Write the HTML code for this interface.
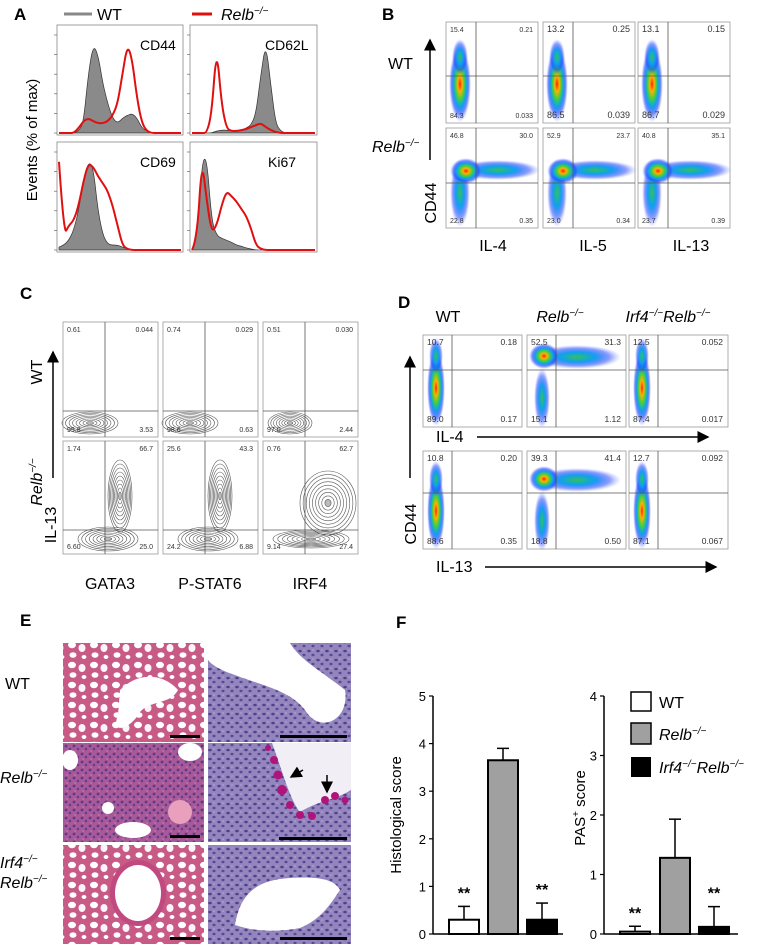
<!DOCTYPE html>
<html><head><meta charset="utf-8">
<style>
html,body{margin:0;padding:0;background:#fff;}
svg{display:block;font-family:"Liberation Sans",Arial,sans-serif;}
</style></head>
<body>
<svg id="fig" width="760" height="944" viewBox="0 0 760 944" xmlns="http://www.w3.org/2000/svg">
<defs>
  <pattern id="alv" width="22" height="20" patternUnits="userSpaceOnUse">
    <rect width="22" height="20" fill="#c85a86"/>
    <ellipse cx="6" cy="5" rx="4" ry="3.2" fill="#fff"/>
    <ellipse cx="16" cy="8" rx="3.5" ry="4" fill="#fbf4f8"/>
    <ellipse cx="7" cy="15" rx="3.5" ry="2.8" fill="#fff"/>
    <ellipse cx="18" cy="17" rx="2.4" ry="2" fill="#fff"/>
  </pattern>
  <pattern id="dense" width="8" height="8" patternUnits="userSpaceOnUse">
    <rect width="8" height="8" fill="#a85a98"/>
    <circle cx="2" cy="2" r="1.4" fill="#5a3a8a"/>
    <circle cx="6" cy="5" r="1.3" fill="#6a3c90"/>
    <circle cx="3" cy="7" r="0.8" fill="#d47aa6"/>
  </pattern>
  <pattern id="epi" width="9" height="9" patternUnits="userSpaceOnUse">
    <rect width="9" height="9" fill="#9486bd"/>
    <ellipse cx="3" cy="3" rx="1.8" ry="1.3" fill="#4e4290"/>
    <ellipse cx="7" cy="7" rx="1.6" ry="1.2" fill="#564a98"/>
    <circle cx="7" cy="2" r="0.8" fill="#b6a8d6"/>
  </pattern>
  <radialGradient id="dens" cx="50%" cy="50%" r="50%">
    <stop offset="0" stop-color="#ff2000"/>
    <stop offset="0.2" stop-color="#ffb000"/>
    <stop offset="0.4" stop-color="#40d040"/>
    <stop offset="0.6" stop-color="#10a0f0"/>
    <stop offset="0.8" stop-color="#2040ff" stop-opacity="0.6"/>
    <stop offset="1" stop-color="#6080ff" stop-opacity="0"/>
  </radialGradient>
  <radialGradient id="densB" cx="50%" cy="50%" r="50%">
    <stop offset="0" stop-color="#30c060"/>
    <stop offset="0.4" stop-color="#10a0f0"/>
    <stop offset="0.75" stop-color="#2040ff" stop-opacity="0.5"/>
    <stop offset="1" stop-color="#6080ff" stop-opacity="0"/>
  </radialGradient>
  <marker id="arr" markerWidth="8" markerHeight="8" refX="7" refY="4" orient="auto"><path d="M0,0 L8,4 L0,8 z" fill="#000"/></marker>
</defs>

<g font-weight="bold" font-size="17">
  <text x="14" y="20">A</text>
  <text x="382" y="20">B</text>
  <text x="20" y="299">C</text>
  <text x="398" y="308">D</text>
  <text x="20" y="626">E</text>
  <text x="396" y="628">F</text>
</g>

<g>
  <line x1="64" y1="14" x2="92" y2="14" stroke="#888" stroke-width="3"/>
  <text x="97" y="20" font-size="16">WT</text>
  <line x1="192" y1="14" x2="212" y2="14" stroke="#e01010" stroke-width="3"/>
  <text x="221" y="20" font-size="16" font-style="italic">Relb<tspan font-size="10" dy="-6">−/−</tspan></text>
</g>
<text transform="translate(37,140) rotate(-90)" text-anchor="middle" font-size="15">Events (% of max)</text>
<g id="gA"></g>

<g>
  <text x="388" y="69" font-size="16">WT</text>
  <text x="372" y="152" font-size="16" font-style="italic">Relb<tspan font-size="10" dy="-6">−/−</tspan></text>
  <line x1="430" y1="160" x2="430" y2="40" stroke="#000" stroke-width="1.5" marker-end="url(#arr)"/>
  <text transform="translate(436,203) rotate(-90)" text-anchor="middle" font-size="16">CD44</text>
  <text x="493" y="251" text-anchor="middle" font-size="16">IL-4</text>
  <text x="593" y="251" text-anchor="middle" font-size="16">IL-5</text>
  <text x="691" y="251" text-anchor="middle" font-size="16">IL-13</text>
</g>
<g id="gB"></g>

<g>
  <text transform="translate(42,372) rotate(-90)" text-anchor="middle" font-size="16">WT</text>
  <line x1="53" y1="478" x2="53" y2="352" stroke="#000" stroke-width="1.5" marker-end="url(#arr)"/>
  <text transform="translate(42,482) rotate(-90)" text-anchor="middle" font-size="16" font-style="italic">Relb<tspan font-size="10" dy="-6">−/−</tspan></text>
  <text transform="translate(56,525) rotate(-90)" text-anchor="middle" font-size="16">IL-13</text>
  <text x="110" y="589" text-anchor="middle" font-size="16">GATA3</text>
  <text x="210" y="589" text-anchor="middle" font-size="16">P-STAT6</text>
  <text x="310" y="589" text-anchor="middle" font-size="16">IRF4</text>
</g>
<g id="gC"></g>

<g>
  <text x="448" y="322" text-anchor="middle" font-size="16">WT</text>
  <text x="560" y="322" text-anchor="middle" font-size="16" font-style="italic">Relb<tspan font-size="10" dy="-6">−/−</tspan></text>
  <text x="668" y="322" text-anchor="middle" font-size="16" font-style="italic">Irf4<tspan font-size="10" dy="-6">−/−</tspan><tspan dy="6">Relb</tspan><tspan font-size="10" dy="-6">−/−</tspan></text>
  <text x="436" y="442" font-size="16">IL-4</text>
  <line x1="477" y1="437" x2="708" y2="437" stroke="#000" stroke-width="1.5" marker-end="url(#arr)"/>
  <text x="436" y="572" font-size="16">IL-13</text>
  <line x1="485" y1="567" x2="716" y2="567" stroke="#000" stroke-width="1.5" marker-end="url(#arr)"/>
  <line x1="410" y1="478" x2="410" y2="357" stroke="#000" stroke-width="1.5" marker-end="url(#arr)"/>
  <text transform="translate(416,524) rotate(-90)" text-anchor="middle" font-size="16">CD44</text>
</g>
<g id="gD"></g>

<g>
  <text x="5" y="689" font-size="16">WT</text>
  <text x="0" y="783" font-size="16" font-style="italic">Relb<tspan font-size="10" dy="-6">−/−</tspan></text>
  <text x="0" y="868" font-size="16" font-style="italic">Irf4<tspan font-size="10" dy="-6">−/−</tspan></text>
  <text x="0" y="888" font-size="16" font-style="italic">Relb<tspan font-size="10" dy="-6">−/−</tspan></text>

  <g>
    <rect x="63" y="643" width="141" height="99" fill="url(#alv)"/>
    <path d="M120,690 C140,670 165,675 178,690 C170,705 150,700 140,712 C130,730 110,735 118,715 Z" fill="#fff"/>
    <rect x="170" y="735" width="30" height="3" fill="#000"/>
  </g>
  <g>
    <rect x="208" y="643" width="143" height="99" fill="url(#epi)"/>
    <path d="M208,643 L290,643 C300,660 320,670 345,690 C350,720 320,735 305,710 C290,690 260,685 235,675 C220,670 212,665 208,660 Z" fill="#fff"/>
    <rect x="280" y="735" width="67" height="3" fill="#000"/>
  </g>
  <g>
    <rect x="63" y="743" width="141" height="99" fill="url(#dense)"/>
    <ellipse cx="70" cy="760" rx="8" ry="10" fill="#fff"/>
    <ellipse cx="190" cy="752" rx="12" ry="9" fill="#fff"/>
    <ellipse cx="108" cy="808" rx="6" ry="6" fill="#fff"/>
    <ellipse cx="133" cy="830" rx="18" ry="8" fill="#fff"/>
    <ellipse cx="180" cy="812" rx="12" ry="12" fill="#e8a0bc"/>
    <rect x="170" y="835" width="30" height="3" fill="#000"/>
  </g>
  <g>
    <rect x="208" y="743" width="143" height="99" fill="url(#epi)"/>
    <path d="M272,743 L351,743 L351,790 C335,800 320,800 300,812 C290,800 282,770 272,743 Z" fill="#f2eef6"/>
    <g fill="#b0147a">
      <circle cx="274" cy="760" r="4"/><circle cx="278" cy="775" r="4.5"/><circle cx="282" cy="790" r="5"/><circle cx="290" cy="805" r="4"/><circle cx="300" cy="815" r="4"/><circle cx="312" cy="816" r="4"/><circle cx="325" cy="800" r="4"/><circle cx="335" cy="796" r="4"/><circle cx="345" cy="800" r="3.5"/><circle cx="268" cy="748" r="3"/>
    </g>
    <line x1="303" y1="770" x2="291" y2="777" stroke="#000" stroke-width="1.5" marker-end="url(#arr)"/>
    <line x1="327" y1="775" x2="327" y2="792" stroke="#000" stroke-width="1.5" marker-end="url(#arr)"/>
    <rect x="279" y="837" width="68" height="3" fill="#000"/>
  </g>
  <g>
    <rect x="63" y="845" width="141" height="99" fill="url(#alv)"/>
    <ellipse cx="138" cy="893" rx="28" ry="33" fill="#c04a80"/>
    <ellipse cx="138" cy="893" rx="23" ry="28" fill="#fff"/>
    <rect x="170" y="937" width="30" height="3" fill="#000"/>
  </g>
  <g>
    <rect x="208" y="845" width="143" height="99" fill="url(#epi)"/>
    <path d="M235,925 C240,895 255,880 290,878 C320,876 335,880 340,890 C330,905 320,920 300,928 C280,932 255,932 235,925 Z" fill="#fff"/>
    <rect x="280" y="937" width="67" height="3" fill="#000"/>
  </g>
</g>

<g id="gF">
  <text transform="translate(401,815) rotate(-90)" text-anchor="middle" font-size="15">Histological score</text>
  <text transform="translate(585,808) rotate(-90)" text-anchor="middle" font-size="15">PAS<tspan font-size="10" dy="-6">+</tspan><tspan dy="6"> score</tspan></text>
  <g>
    <rect x="631" y="692" width="20" height="19" fill="#fff" stroke="#000" stroke-width="1.5"/>
    <text x="659" y="708" font-size="16">WT</text>
    <rect x="631" y="723" width="20" height="21" fill="#a0a0a0" stroke="#000" stroke-width="1.5"/>
    <text x="659" y="740" font-size="16" font-style="italic">Relb<tspan font-size="10" dy="-6">−/−</tspan></text>
    <rect x="631" y="757" width="20" height="20" fill="#000"/>
    <text x="659" y="773" font-size="16" font-style="italic">Irf4<tspan font-size="10" dy="-6">−/−</tspan><tspan dy="6">Relb</tspan><tspan font-size="10" dy="-6">−/−</tspan></text>
  </g>
</g>
</svg>

<script>
const NS = 'http://www.w3.org/2000/svg';

// ---- Panel A histogram data (fraction of max along log-scale bins) ----
const histMarkers = ['CD44', 'CD62L', 'CD69', 'Ki67'];
const histWT = [
  [0,0,0,0,0.02,0.1,0.6,0.9,0.8,0.5,0.3,0.15,0.1,0.15,0.18,0.2,0.15,0.05,0.02,0,0,0,0,0,0,0],
  [0,0,0,0,0,0.02,0.03,0.03,0.02,0.02,0.03,0.05,0.08,0.2,0.6,0.92,0.5,0.1,0.02,0,0,0,0,0,0,0],
  [0.03,0.05,0.1,0.2,0.4,0.7,0.9,0.85,0.4,0.15,0.06,0.05,0.05,0.03,0.01,0,0,0,0,0,0,0,0,0,0,0],
  [0,0.05,0.9,0.95,0.3,0.15,0.12,0.1,0.08,0.05,0.04,0.02,0.01,0,0,0,0,0,0,0,0,0,0,0,0,0]
];
const histRelb = [
  [0,0,0,0,0.05,0.12,0.15,0.12,0.1,0.1,0.12,0.18,0.3,0.6,0.9,0.75,0.35,0.1,0.02,0,0,0,0,0,0,0],
  [0,0,0,0,0.2,0.88,0.3,0.05,0.02,0.02,0.03,0.04,0.06,0.08,0.1,0.06,0.03,0.01,0,0,0,0,0,0,0,0],
  [0.9,0.15,0.25,0.3,0.45,0.7,0.88,0.85,0.75,0.68,0.6,0.45,0.25,0.05,0.01,0,0,0,0,0,0,0,0,0,0,0],
  [0,0.1,0.93,0.5,0.18,0.25,0.45,0.6,0.55,0.5,0.42,0.35,0.22,0.05,0.01,0,0,0,0,0,0,0,0,0,0,0]
];
const histBoxes = [[57,25,126,110],[190,25,127,110],[57,142,126,110],[190,142,127,110]];
const histLabelPos = [[140,50],[265,50],[140,167],[268,167]];

const bMarkers = ['IL-4','IL-5','IL-13'];
const bWT = [['15.4','0.21','84.3','0.033'],['13.2','0.25','86.5','0.039'],['13.1','0.15','86.7','0.029']];
const bRelb = [['46.8','30.0','22.8','0.35'],['52.9','23.7','23.0','0.34'],['40.8','35.1','23.7','0.39']];

const cMarkers = ['GATA3','P-STAT6','IRF4'];
const cWT = [['0.61','0.044','95.8','3.53'],['0.74','0.029','98.6','0.63'],['0.51','0.030','97.0','2.44']];
const cRelb = [['1.74','66.7','6.60','25.0'],['25.6','43.3','24.2','6.88'],['0.76','62.7','9.14','27.4']];

const dGenotypes = ['WT','Relb','Irf4Relb'];
const dIL4 = [['10.7','0.18','89.0','0.17'],['52.5','31.3','15.1','1.12'],['12.5','0.052','87.4','0.017']];
const dIL13 = [['10.8','0.20','88.6','0.35'],['39.3','41.4','18.8','0.50'],['12.7','0.092','87.1','0.067']];

const groups = ['WT','Relb-/-','Irf4-/-Relb-/-'];
const histMean = [0.3, 3.65, 0.3];
const histErr = [0.28, 0.25, 0.35];
const histSig = ['**','','**'];
const pasMean = [0.04, 1.28, 0.12];
const pasErr = [0.09, 0.65, 0.34];
const pasSig = ['**','','**'];
const histTicks = [0,1,2,3,4,5];
const pasTicks = [0,1,2,3,4];

function mk(tag, attrs, name, parent) {
  const el = document.createElementNS(NS, tag);
  for (const k in attrs) el.setAttribute(k, attrs[k]);
  
  
  parent.appendChild(el);
  return el;
}

function smoothPath(pts) {
  let d = 'M' + pts[0][0].toFixed(1) + ',' + pts[0][1].toFixed(1);
  for (let k = 1; k < pts.length - 1; k++) {
    const mx = (pts[k][0] + pts[k + 1][0]) / 2, my = (pts[k][1] + pts[k + 1][1]) / 2;
    d += ' Q' + pts[k][0].toFixed(1) + ',' + pts[k][1].toFixed(1) + ' ' + mx.toFixed(1) + ',' + my.toFixed(1);
  }
  const l = pts[pts.length - 1];
  d += ' L' + l[0].toFixed(1) + ',' + l[1].toFixed(1);
  return d;
}

const gA = document.getElementById('gA');
histBoxes.forEach((b, i) => {
  const [x, y, w, h] = b;
  const base = y + h - 2;
  const xs = k => x + 2 + (w - 4) * k / 25;
  const ys = v => base - v * (h - 12);
  const gp = histWT[i].map((v, k) => [xs(k), ys(v)]);
  const d = 'M' + xs(0) + ',' + base + ' L' + smoothPath(gp).slice(1) + ' L' + xs(25) + ',' + base + ' Z';
  mk('path', {d: d, fill: '#8a8a8a', stroke: '#333', 'stroke-width': 0.7}, 'wt-histogram-' + histMarkers[i], gA);
  const rp = histRelb[i].map((v, k) => [xs(k), ys(v)]);
  mk('path', {d: smoothPath(rp), fill: 'none', stroke: '#e01010', 'stroke-width': 2}, 'relb-histogram-' + histMarkers[i], gA);
  mk('rect', {x: x, y: y, width: w, height: h, fill: 'none', stroke: '#888', 'stroke-width': 0.8}, 'histogram-frame-' + histMarkers[i], gA);
  for (let t = 0; t <= 5; t++) {
    mk('line', {x1: x - 3, x2: x, y1: base - t * (h - 12) / 5, y2: base - t * (h - 12) / 5, stroke: '#555', 'stroke-width': 0.6}, 'y-tick', gA);
  }
  mk('text', {x: histLabelPos[i][0], y: histLabelPos[i][1], 'font-size': 14}, 'marker-label-' + histMarkers[i], gA).textContent = histMarkers[i];
});

function blob(g, cx, cy, rx, ry, grad, nm) {
  mk('ellipse', {cx: cx, cy: cy, rx: rx, ry: ry, fill: 'url(#' + grad + ')'}, nm, g);
}
function quadText(g, x, y, w, h, vals, fs, nm) {
  const pos = [[x + 4, y + 10, 'start'], [x + w - 5, y + 10, 'end'], [x + 4, y + h - 5, 'start'], [x + w - 5, y + h - 5, 'end']];
  vals.forEach((v, i) => {
    mk('text', {x: pos[i][0], y: pos[i][1], 'text-anchor': pos[i][2], 'font-size': fs, fill: '#333'}, nm + '-q' + (i + 1), g).textContent = v;
  });
}
function frame(g, x, y, w, h, vx, hy, nm) {
  mk('rect', {x: x, y: y, width: w, height: h, fill: 'none', stroke: '#999', 'stroke-width': 0.8}, nm + '-frame', g);
  mk('line', {x1: vx, x2: vx, y1: y, y2: y + h, stroke: '#555', 'stroke-width': 0.8}, nm + '-vgate', g);
  mk('line', {x1: x, x2: x + w, y1: hy, y2: hy, stroke: '#555', 'stroke-width': 0.8}, nm + '-hgate', g);
}

const gB = document.getElementById('gB');
const bx = [446, 543, 638], bw = 92;
bMarkers.forEach((m, i) => {
  const x = bx[i];
  let y = 22, h = 101;
  blob(gB, x + 14, y + 62, 11, 38, 'dens', 'wt-density-' + m);
  blob(gB, x + 14, y + 35, 8, 18, 'densB', 'wt-density-upper-' + m);
  frame(gB, x, y, bw, h, x + 30, y + 54, 'plot-b-wt-' + m);
  quadText(gB, x, y, bw, h, bWT[i], i ? 9 : 7, 'b-wt-' + m);
  y = 128; h = 100;
  blob(gB, x + 52, y + 42, 42, 10, 'densB', 'relb-streak-' + m);
  blob(gB, x + 14, y + 65, 10, 34, 'densB', 'relb-column-' + m);
  blob(gB, x + 20, y + 43, 16, 13, 'dens', 'relb-density-' + m);
  frame(gB, x, y, bw, h, x + 30, y + 55, 'plot-b-relb-' + m);
  quadText(gB, x, y, bw, h, bRelb[i], 7, 'b-relb-' + m);
});

const gC = document.getElementById('gC');
const cx0 = [63, 163, 263], cw = 95;
function contour(g, cx, cy, rx, ry, n, nm) {
  for (let k = 1; k <= n; k++) {
    mk('ellipse', {cx: cx, cy: cy, rx: rx * k / n, ry: ry * k / n, fill: k === 1 ? '#bbb' : 'none', stroke: '#555', 'stroke-width': 0.6}, nm, g);
  }
}
cMarkers.forEach((m, i) => {
  const x = cx0[i];
  let y = 322, h = 115;
  const vx = x + 42;
  contour(gC, x + 27, y + 101, i === 2 ? 22 : 28, 11, 8, 'wt-contour-' + m);
  frame(gC, x, y, cw, h, vx, y + 89, 'plot-c-wt-' + m);
  quadText(gC, x, y, cw, h, cWT[i], 7, 'c-wt-' + m);
  y = 441; h = 113;
  if (i < 2) {
    contour(gC, x + 57, y + 55, 12, 36, 9, 'relb-contour-upper-' + m);
    contour(gC, x + 45, y + 98, 30, 12, 8, 'relb-contour-lower-' + m);
  } else {
    contour(gC, x + 65, y + 62, 28, 32, 9, 'relb-contour-upper-' + m);
    contour(gC, x + 48, y + 98, 38, 9, 8, 'relb-contour-lower-' + m);
  }
  frame(gC, x, y, cw, h, vx, y + 89, 'plot-c-relb-' + m);
  quadText(gC, x, y, cw, h, cRelb[i], 7, 'c-relb-' + m);
});

const gD = document.getElementById('gD');
const dx = [423, 527, 629], dw = 99;
[[dIL4, 335, 92, 35, 'il4'], [dIL13, 451, 98, 42, 'il13']].forEach(row => {
  const [vals, y, h, hy, nm] = row;
  dGenotypes.forEach((gname, i) => {
    const x = dx[i];
    if (i === 1) {
      blob(gD, x + 50, y + hy - 13, 44, 12, 'densB', 'd-streak-' + nm);
      blob(gD, x + 15, y + hy + 28, 8, 30, 'densB', 'd-column-' + nm);
      blob(gD, x + 17, y + hy - 14, 15, 13, 'dens', 'd-density-' + nm + '-' + gname);
    } else {
      blob(gD, x + 13, y + hy + 18, 9, 38, 'dens', 'd-density-' + nm + '-' + gname);
      blob(gD, x + 13, y + hy - 14, 7, 18, 'densB', 'd-density-upper-' + nm + '-' + gname);
    }
    frame(gD, x, y, dw, h, x + 29, y + hy, 'plot-d-' + nm + '-' + gname);
    quadText(gD, x, y, dw, h, vals[i], 8.5, 'd-' + nm + '-' + gname);
  });
});

const gF = document.getElementById('gF');
function barChart(cfg) {
  const {ax, y0, yTop, maxV, xEnd, centers, mean, err, sig, ticks, nm} = cfg;
  const yS = v => y0 - (y0 - yTop) * v / maxV;
  const fills = ['#fff', '#a0a0a0', '#000'];
  mk('line', {x1: ax, x2: ax, y1: y0, y2: yTop, stroke: '#000', 'stroke-width': 1.5}, nm + '-y-axis', gF);
  mk('line', {x1: ax, x2: xEnd, y1: y0, y2: y0, stroke: '#000', 'stroke-width': 1.5}, nm + '-x-axis', gF);
  ticks.forEach(t => {
    mk('line', {x1: ax - 4, x2: ax, y1: yS(t), y2: yS(t), stroke: '#000', 'stroke-width': 1.2}, nm + '-y-tick', gF);
    mk('text', {x: ax - 7, y: yS(t) + 5, 'text-anchor': 'end', 'font-size': 13}, nm + '-y-tick-label', gF).textContent = t;
  });
  groups.forEach((gname, i) => {
    const c = centers[i];
    const top = yS(mean[i] + err[i]);
    mk('line', {x1: c, x2: c, y1: yS(mean[i]), y2: top, stroke: '#000', 'stroke-width': 1.5}, nm + '-error-bar-' + i, gF);
    mk('line', {x1: c - 6, x2: c + 6, y1: top, y2: top, stroke: '#000', 'stroke-width': 1.5}, nm + '-error-cap-' + i, gF);
    mk('rect', {x: c - 15, y: yS(mean[i]), width: 30, height: Math.max(0, y0 - yS(mean[i])), fill: fills[i], stroke: '#000', 'stroke-width': 2}, nm + '-bar-' + i, gF);
    if (sig[i]) mk('text', {x: c, y: top - 8, 'text-anchor': 'middle', 'font-size': 16, 'font-weight': 'bold'}, nm + '-significance-' + i, gF).textContent = sig[i];
  });
}
barChart({ax: 433, y0: 934, yTop: 696, maxV: 5, xEnd: 563, centers: [464, 503, 542], mean: histMean, err: histErr, sig: histSig, ticks: histTicks, nm: 'histological'});
barChart({ax: 604, y0: 934, yTop: 696, maxV: 4, xEnd: 738, centers: [635, 675, 714], mean: pasMean, err: pasErr, sig: pasSig, ticks: pasTicks, nm: 'pas'});
</script>
</body></html>
